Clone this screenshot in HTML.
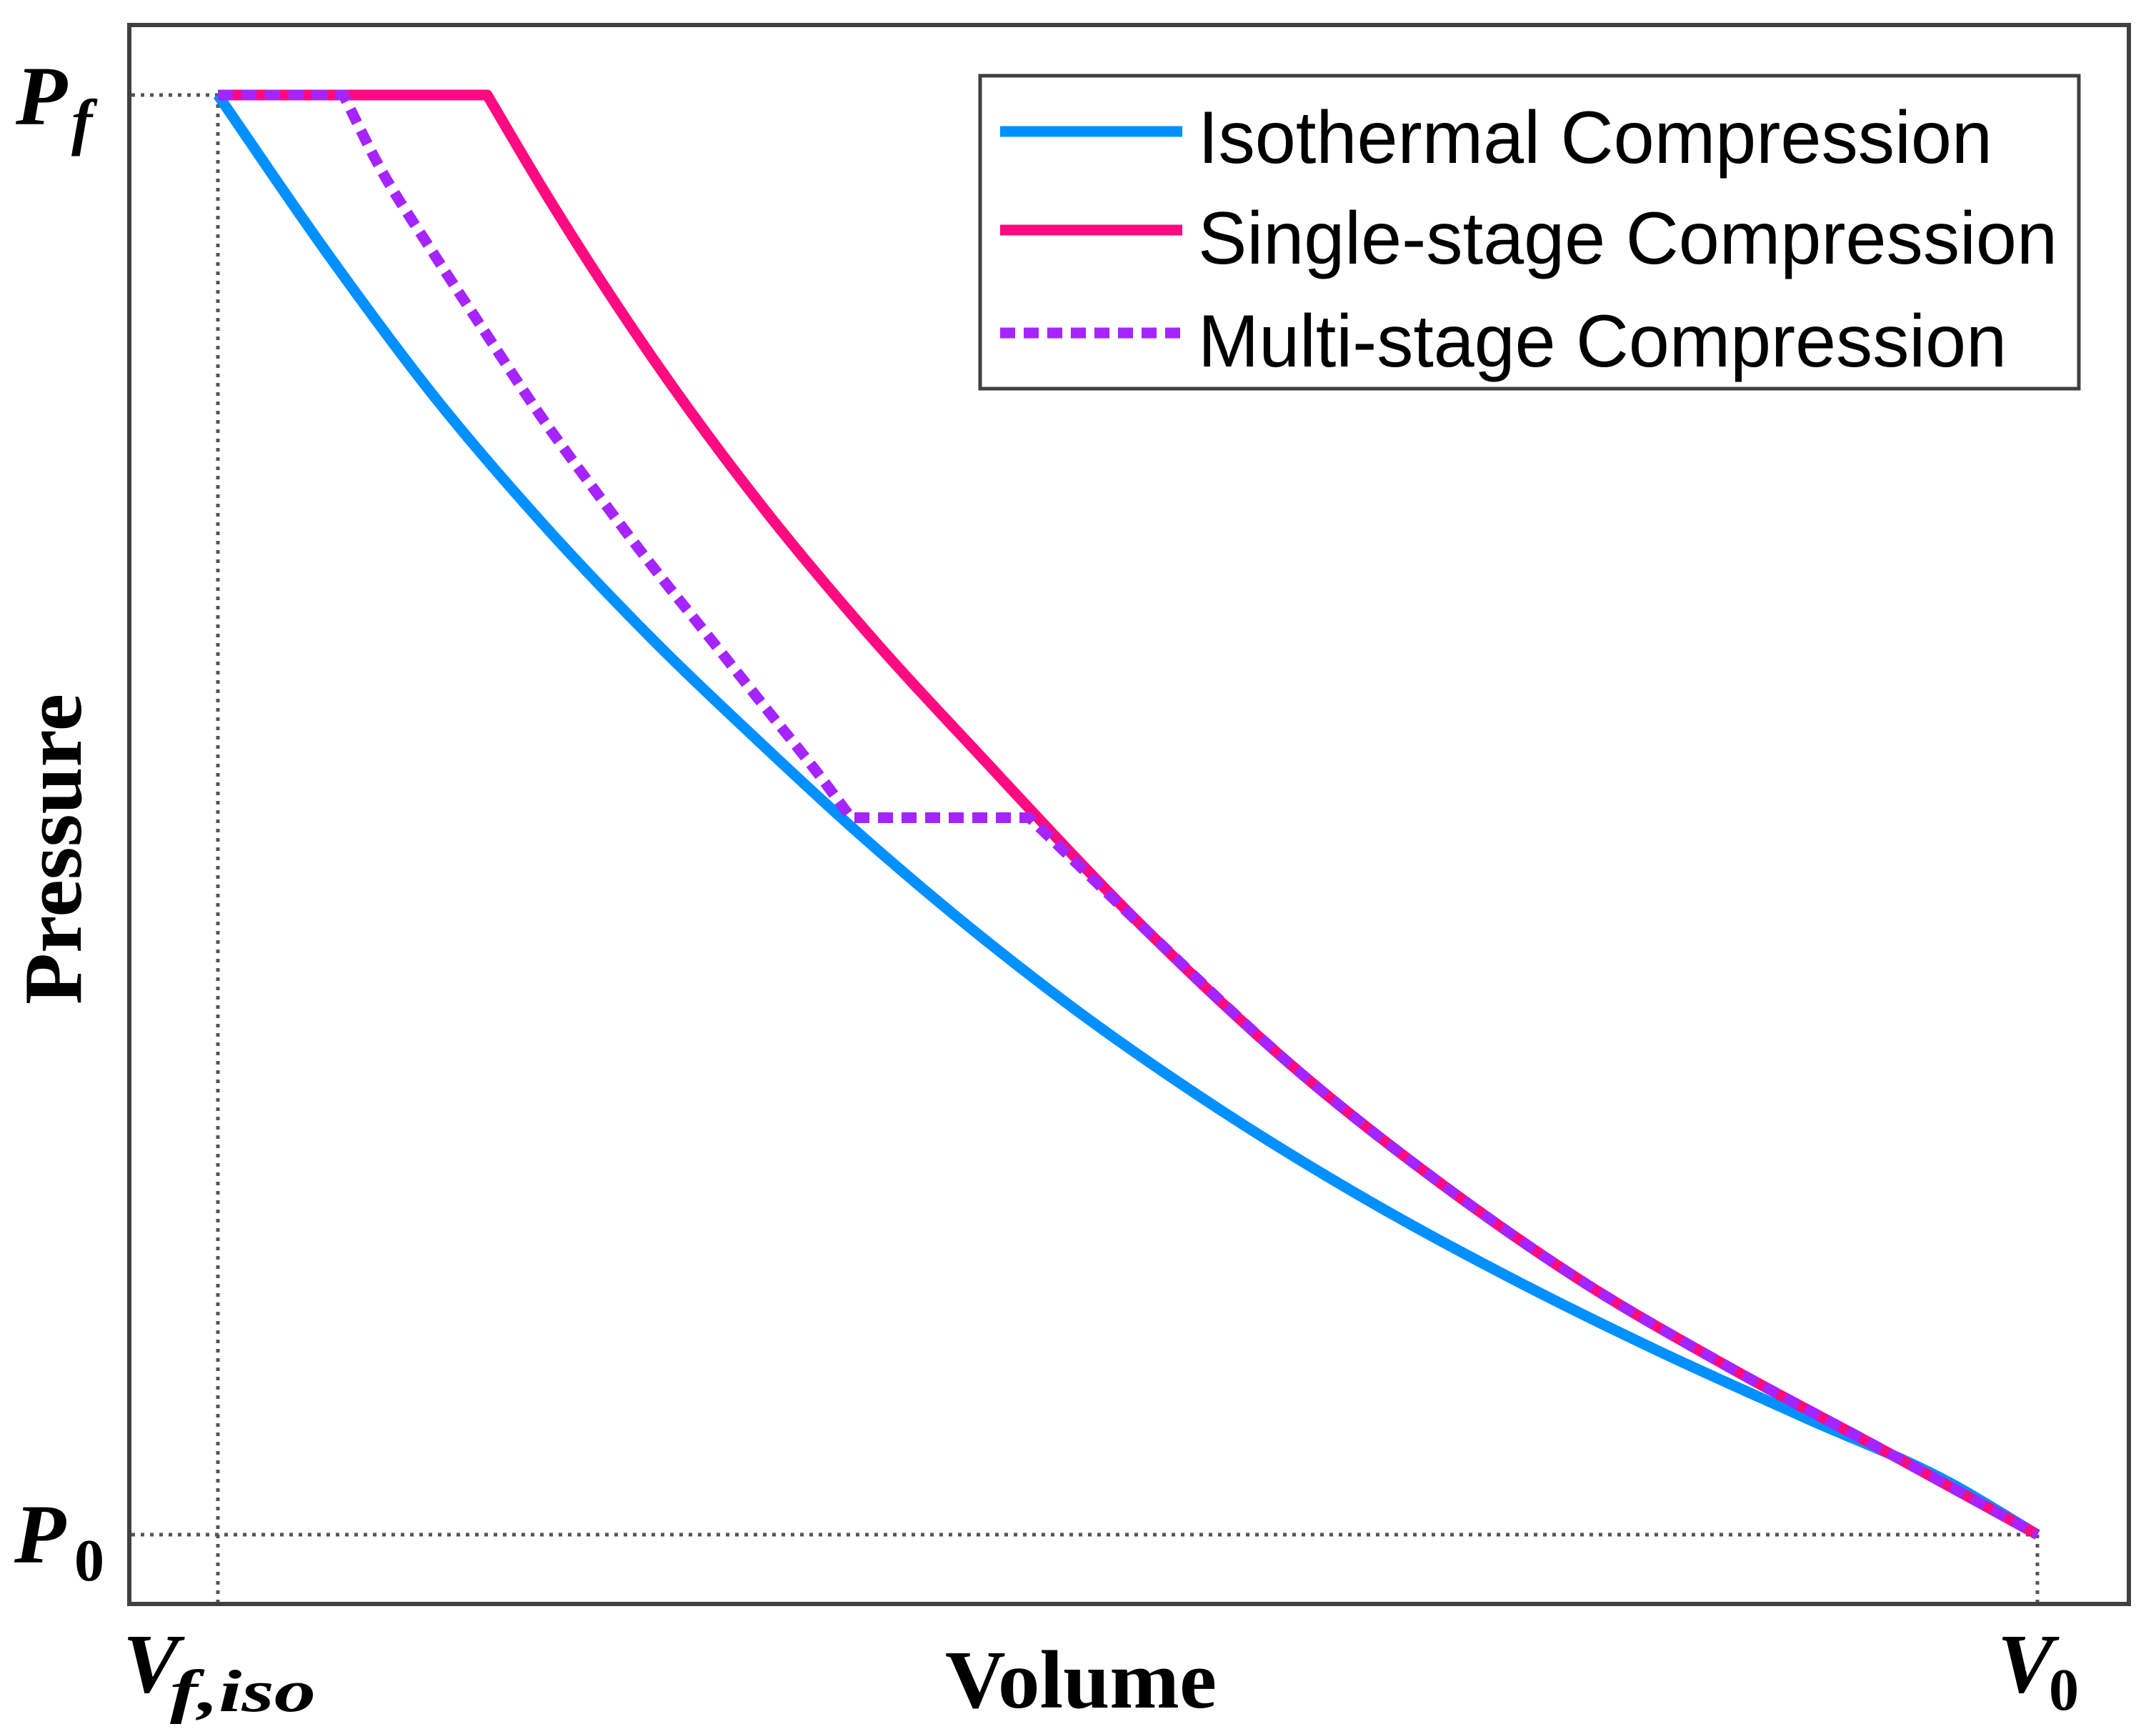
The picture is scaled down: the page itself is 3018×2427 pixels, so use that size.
<!DOCTYPE html>
<html><head><meta charset="utf-8"><style>
html,body{margin:0;padding:0;background:#fff;}
svg{display:block;}
</style></head><body>
<svg id="chart" width="3018" height="2427" viewBox="0 0 3018 2427" xmlns="http://www.w3.org/2000/svg">
<rect width="3018" height="2427" fill="#fff"/>
<g id="guides"></g>
<g id="series"></g>
<rect x="181" y="35" width="2799" height="2210" fill="none" stroke="#404040" stroke-width="6"/>
<g>
<rect x="1372" y="106" width="1538" height="438" fill="#fff" stroke="#404040" stroke-width="5"/>
<line x1="1400" y1="184" x2="1655" y2="184" stroke="#0090ff" stroke-width="15"/>
<line x1="1400" y1="322" x2="1655" y2="322" stroke="#ff0a80" stroke-width="15"/>
<line x1="1400" y1="466" x2="1655" y2="466" stroke="#a524ff" stroke-width="15" stroke-dasharray="21 12"/>
<text x="1677" y="228" font-family="Liberation Sans, sans-serif" font-size="104" textLength="1112" lengthAdjust="spacingAndGlyphs">Isothermal Compression</text>
<text x="1677" y="369" font-family="Liberation Sans, sans-serif" font-size="104" textLength="1203" lengthAdjust="spacingAndGlyphs">Single-stage Compression</text>
<text x="1677" y="513" font-family="Liberation Sans, sans-serif" font-size="104" textLength="1132" lengthAdjust="spacingAndGlyphs">Multi-stage Compression</text>
</g>
<g font-family="Liberation Serif, serif" font-weight="bold" fill="#000">
<text x="22" y="174" font-size="118" font-style="italic">P</text>
<text x="100" y="200" font-size="88" font-style="italic">f</text>
<text x="20" y="2187" font-size="118" font-style="italic">P</text>
<text x="104" y="2212" font-size="84">0</text>
<text x="172" y="2368" font-size="118" font-style="italic">V</text>
<text x="238" y="2395" font-size="84" font-style="italic" textLength="204" lengthAdjust="spacingAndGlyphs">f,iso</text>
<text x="2796" y="2368" font-size="118" font-style="italic">V</text>
<text x="2868" y="2393" font-size="84">0</text>
<text x="1323" y="2390" font-size="116" textLength="380" lengthAdjust="spacingAndGlyphs">Volume</text>
<text transform="translate(113,1406) rotate(-90)" x="0" y="0" font-size="116" textLength="435" lengthAdjust="spacingAndGlyphs">Pressure</text>
</g>
</svg>
<script>
// data in normalized units: volume 0 (Vf,iso) .. 100 (V0); pressure 0 (P0) .. 100 (Pf)
const isoV = [0, 5.9, 11.8, 17.8, 23.8, 29.9, 34.7, 41.3, 47.1, 55.1, 63.1, 71.1, 79.1, 87.1, 95.2, 100];
const isoP = [100, 89.2, 79.2, 70.3, 62.3, 54.9, 49.3, 42.2, 36.5, 29.5, 23.3, 17.8, 12.8, 8.2, 3.6, 0];
const singleV = [0, 14.8, 17.8, 23.8, 29.8, 35.8, 41.9, 51.1, 59.1, 67.1, 75.1, 83.1, 91.2, 100];
const singleP = [100, 100, 93.6, 81.9, 71.6, 62.5, 54.1, 41.9, 32.5, 24.5, 17.5, 11.6, 6.1, 0];
const multiV = [0, 6.9, 8.8, 11.8, 14.8, 17.8, 20.8, 23.8, 26.9, 29.8, 32.9, 34.8, 44.6, 51.1, 59.1, 67.1, 75.1, 83.1, 91.2, 100];
const multiP = [100, 100, 95.2, 89.1, 83.3, 77.6, 72.4, 67.4, 62.5, 57.9, 53.0, 49.8, 49.8, 41.9, 32.5, 24.5, 17.5, 11.6, 6.1, 0];

const X0 = 305, X1 = 2852, Y0 = 2148, Y1 = 133;
function xs(v){ return X0 + (X1 - X0) * v / 100; }
function ys(p){ return Y0 - (Y0 - Y1) * p / 100; }
const NS = 'http://www.w3.org/2000/svg';

const guides = document.getElementById('guides');
function guide(x1,y1,x2,y2,name){
  const l = document.createElementNS(NS,'line');
  l.setAttribute('x1',x1); l.setAttribute('y1',y1); l.setAttribute('x2',x2); l.setAttribute('y2',y2);
  l.setAttribute('stroke','#555'); l.setAttribute('stroke-width','5'); l.setAttribute('stroke-dasharray','5 8');
  
  
  guides.appendChild(l);
}
guide(184, ys(100), xs(0), ys(100), 'pf-guide');
guide(xs(0), ys(100), xs(0), 2242, 'vf-guide');
guide(184, ys(0), xs(100), ys(0), 'p0-guide');
guide(xs(100), ys(0), xs(100), 2242, 'v0-guide');

const series = document.getElementById('series');
// Hermite interpolation in pixel space, x-monotone; flat segments break smoothing (sharp corners)
function smoothPath(V, P){
  const X = V.map(xs), Y = P.map(ys);
  const n = X.length;
  const sec = [];
  for (let i = 0; i < n-1; i++) sec.push((Y[i+1]-Y[i])/(X[i+1]-X[i]));
  const flat = i => (i >= 0 && i < n-1 && P[i] === P[i+1]);
  function slopeAt(i){
    const hl = X[i]-X[i-1], hr = X[i+1]-X[i];
    return (sec[i-1]*hr + sec[i]*hl) / (hl + hr);
  }
  let d = 'M' + X[0].toFixed(1) + ',' + Y[0].toFixed(1);
  for (let i = 0; i < n-1; i++) {
    if (flat(i)) { d += ' L' + X[i+1].toFixed(1) + ',' + Y[i+1].toFixed(1); continue; }
    const ma = (i > 0 && !flat(i-1)) ? slopeAt(i) : sec[i];
    const mb = (i+1 < n-1 && !flat(i+1)) ? slopeAt(i+1) : sec[i];
    const h = (X[i+1]-X[i])/3;
    d += ' C' + (X[i]+h).toFixed(1)+','+(Y[i]+ma*h).toFixed(1)+' '+(X[i+1]-h).toFixed(1)+','+(Y[i+1]-mb*h).toFixed(1)+' '+X[i+1].toFixed(1)+','+Y[i+1].toFixed(1);
  }
  return d;
}
function drawLine(V, P, color, dash, name){
  const pl = document.createElementNS(NS,'path');
  pl.setAttribute('d', smoothPath(V, P));
  pl.setAttribute('fill','none');
  pl.setAttribute('stroke', color);
  pl.setAttribute('stroke-width','15');
  pl.setAttribute('stroke-linejoin','round');
  if (dash) pl.setAttribute('stroke-dasharray', dash);
  
  
  series.appendChild(pl);
}
drawLine(isoV, isoP, '#0090ff', null, 'isothermal-line');
drawLine(singleV, singleP, '#ff0a80', null, 'single-stage-line');
drawLine(multiV, multiP, '#a524ff', '21 12', 'multi-stage-line');
</script>
</body></html>
